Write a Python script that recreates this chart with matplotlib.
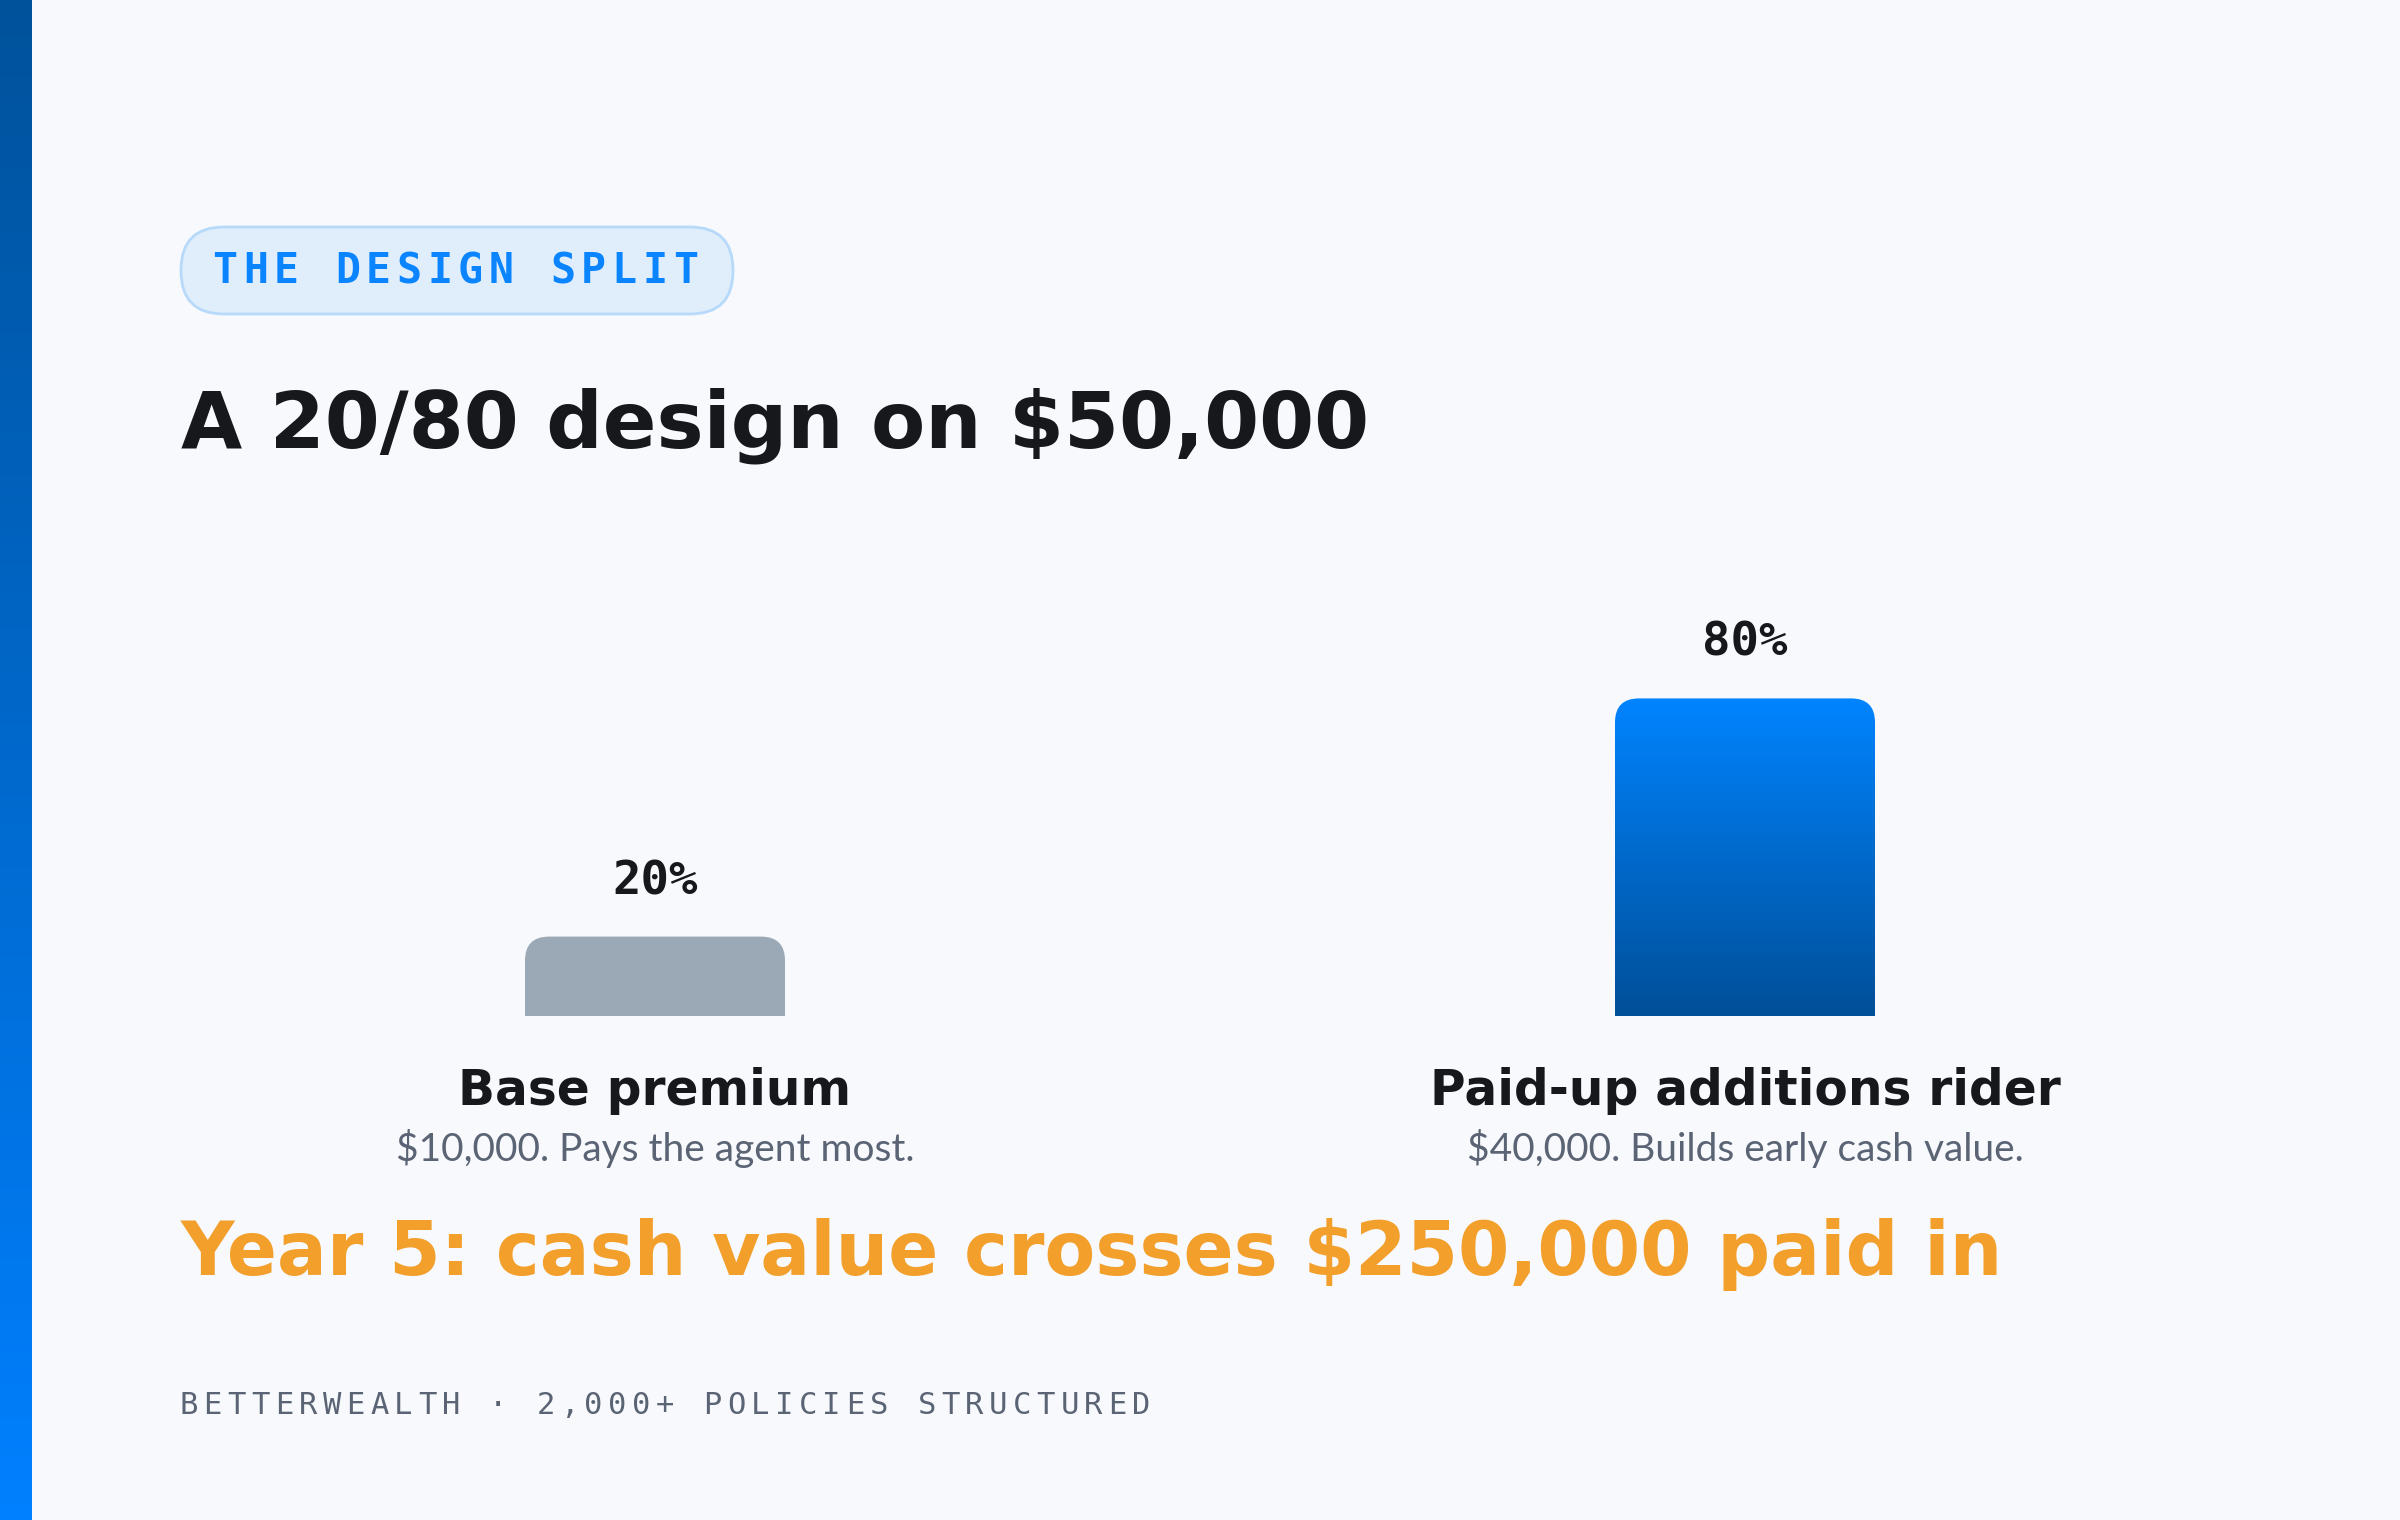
import matplotlib
matplotlib.use('Agg')
import matplotlib.pyplot as plt
import numpy as np
from matplotlib.patches import FancyBboxPatch
from matplotlib.colors import LinearSegmentedColormap

W, H = 2400, 1520
DPI = 100

# data
categories = ['Base premium', 'Paid-up additions rider']
shares = [20, 80]
notes = ['$10,000. Pays the agent most.', '$40,000. Builds early cash value.']
badge = 'THE DESIGN SPLIT'
title = 'A 20/80 design on $50,000'
callout = 'Year 5: cash value crosses $250,000 paid in'
footer = 'BETTERWEALTH · 2,000+ POLICIES STRUCTURED'

# style
BG = '#f7f9fc'
INK = '#17181c'
MUTED = '#5b6474'
ORANGE = '#f29f2c'
BLUE = '#0a84ff'
GRAY_BAR = '#9ba8b5'
bar_fills = ['flat', 'gradient']
HEAD = 'DejaVu Sans'
BODY = 'Lato'
MONO = 'DejaVu Sans Mono'

blue_cmap = LinearSegmentedColormap.from_list('bar', ['#004f98', '#0084ff'])
stripe_cmap = LinearSegmentedColormap.from_list('stripe', ['#0080ff', '#00529b'])


def px(v):
    # pixels -> points
    return v * 72 / DPI


def spaced_text(ax, x0, y, s, pitch, **kw):
    for k, ch in enumerate(s):
        ax.text(x0 + k * pitch, y, ch, ha='center', **kw)


fig = plt.figure(figsize=(W / DPI, H / DPI), dpi=DPI)
fig.patch.set_facecolor(BG)

# overlay for text and decoration, in pixel units
ov = fig.add_axes([0, 0, 1, 1])
ov.set_xlim(0, W)
ov.set_ylim(H, 0)
ov.axis('off')

# left stripe
st = fig.add_axes([0, 0, 32 / W, 1])
st.imshow(np.linspace(0, 1, 256).reshape(-1, 1), cmap=stripe_cmap, aspect='auto',
          extent=[0, 1, 0, 1], origin='lower')
st.axis('off')

# badge
pill = FancyBboxPatch((181, 227), 552, 87, boxstyle='round,pad=0,rounding_size=43',
                      facecolor='#e0eefb', edgecolor='#b7d9fa', linewidth=2)
ov.add_patch(pill)
spaced_text(ov, 225, 271, badge, 30.7, va='center', color=BLUE, fontsize=30,
            fontfamily=MONO, fontweight='bold')

ov.text(181, 448, title, ha='left', va='baseline', fontsize=57, color=INK,
        fontfamily=HEAD, fontweight='bold')

ov.text(181, 1275, callout, ha='left', va='baseline', fontsize=53.3, color=ORANGE,
        fontfamily=HEAD, fontweight='bold')

spaced_text(ov, 189, 1405, footer, 23.8, va='center', color=MUTED, fontsize=22,
            fontfamily=MONO)

# bars
ax = fig.add_axes([110 / W, (H - 1016) / H, 2180 / W, 397 / H])
ax.set_xlim(-0.5, 1.5)
ax.set_ylim(0, 100)
ax.axis('off')
ax.patch.set_alpha(0)

sx = 2180 / 2.0   # px per x unit
sy = 397 / 100.0  # px per y unit
bw = 260 / sx
rx = 24 / sx

for i, (v, fill) in enumerate(zip(shares, bar_fills)):
    left = i - bw / 2
    patch = FancyBboxPatch((left, -20), bw, v + 20,
                           boxstyle=f'round,pad=0,rounding_size={rx}',
                           mutation_aspect=sx / sy, linewidth=0,
                           facecolor=GRAY_BAR if fill == 'flat' else 'none')
    ax.add_patch(patch)
    if fill == 'gradient':
        im = ax.imshow(np.linspace(0, 1, 256).reshape(-1, 1), cmap=blue_cmap,
                       aspect='auto', origin='lower', extent=[left, left + bw, 0, v])
        im.set_clip_path(patch)

    ax.annotate(f'{v}%', xy=(i, v), xytext=(0, px(55)), textcoords='offset points',
                ha='center', va='center', fontsize=34, color=INK,
                fontfamily=MONO, fontweight='bold', annotation_clip=False)
    ax.annotate(categories[i], xy=(i, 0), xytext=(0, -px(89)), textcoords='offset points',
                ha='center', va='baseline', fontsize=35, color=INK,
                fontfamily=HEAD, fontweight='bold', annotation_clip=False)
    ax.annotate(notes[i], xy=(i, 0), xytext=(0, -px(145)), textcoords='offset points',
                ha='center', va='baseline', fontsize=28, color=MUTED,
                fontfamily=BODY, annotation_clip=False)

ax.set_xlim(-0.5, 1.5)
ax.set_ylim(0, 100)

fig.savefig('out.png', dpi=DPI, facecolor=BG)
